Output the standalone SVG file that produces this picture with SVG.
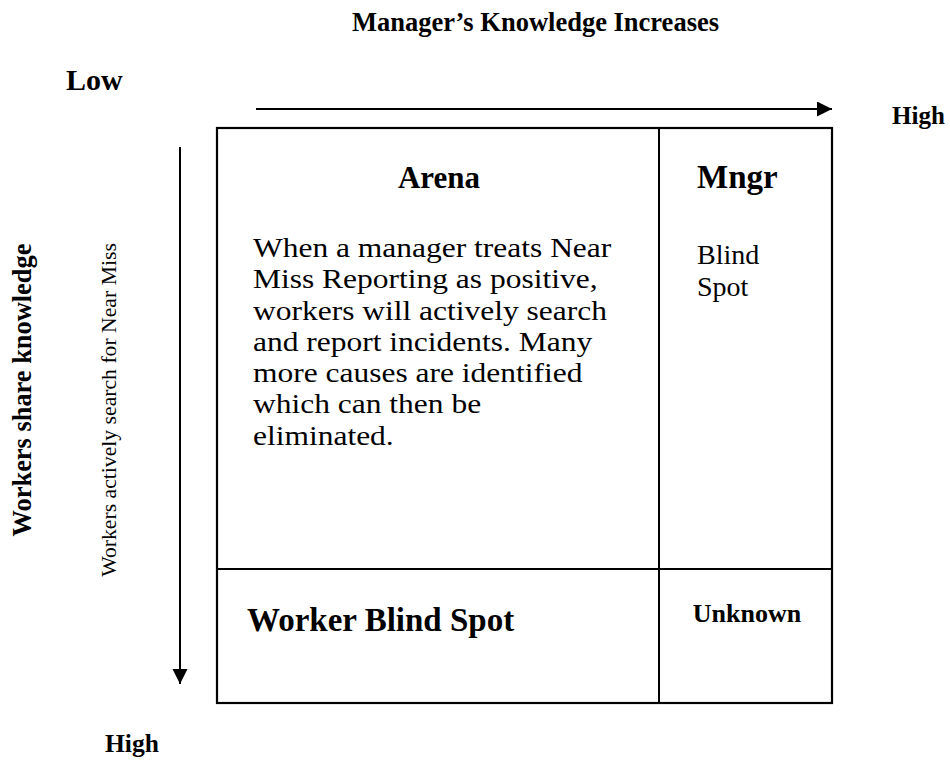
<svg xmlns="http://www.w3.org/2000/svg" width="950" height="763" viewBox="0 0 950 763">
<defs>
<style>
text{font-family:"Liberation Serif","Times New Roman",serif;fill:#000}
.b{font-weight:bold}
.ln{stroke:#000;stroke-width:2;fill:none}
.box{stroke:#000;stroke-width:2.2;fill:#fff}
</style>
<marker id="ah" markerWidth="16" markerHeight="16" refX="15" refY="7.5" orient="auto" markerUnits="userSpaceOnUse">
<path d="M0,0 L15,7.5 L0,15 Z" fill="#000"/>
</marker>
</defs>
<rect width="950" height="763" fill="#fff"/>
<g id="labels">
<text class="b" x="352" y="31" font-size="26.5">Manager’s Knowledge Increases</text>
<text class="b" x="66" y="90" font-size="30">Low</text>
<text class="b" x="892" y="124" font-size="25">High</text>
<text class="b" x="105" y="752" font-size="25.5">High</text>
<text class="b" font-size="26.4" text-anchor="middle" transform="translate(31,390) rotate(-90)">Workers share knowledge</text>
<text font-size="21.7" text-anchor="middle" transform="translate(116,410) rotate(-90)">Workers actively search for Near Miss</text>
</g>
<g id="connectors">
<line class="ln" x1="256" y1="109" x2="832" y2="109" marker-end="url(#ah)"/>
<line class="ln" x1="180" y1="147" x2="180" y2="684" marker-end="url(#ah)"/>
</g>
<g id="matrix">
<rect class="box" x="217" y="128" width="615" height="575"/>
<line class="ln" x1="659" y1="128" x2="659" y2="703"/>
<line class="ln" x1="217" y1="569" x2="832" y2="569"/>
</g>
<g id="arena">
<text class="b" x="439" y="188" font-size="31" text-anchor="middle">Arena</text>
<g transform="translate(253,0) scale(1.117,1)">
<text font-size="28.2">
<tspan x="0" y="257">When a manager treats Near</tspan>
<tspan x="0" y="288.3">Miss Reporting as positive,</tspan>
<tspan x="0" y="319.6">workers will actively search</tspan>
<tspan x="0" y="350.9">and report incidents. Many</tspan>
<tspan x="0" y="382.2">more causes are identified</tspan>
<tspan x="0" y="413.5">which can then be</tspan>
<tspan x="0" y="444.8">eliminated.</tspan>
</text>
</g>
</g>
<g id="mngr-blind-spot">
<text class="b" x="697" y="188" font-size="33">Mngr</text>
<text x="697" y="264" font-size="28">Blind</text>
<text x="697" y="296" font-size="28">Spot</text>
</g>
<g id="worker-blind-spot">
<text class="b" x="247" y="631" font-size="33">Worker Blind Spot</text>
</g>
<g id="unknown">
<text class="b" x="747" y="622" font-size="26" text-anchor="middle">Unknown</text>
</g>
</svg>
